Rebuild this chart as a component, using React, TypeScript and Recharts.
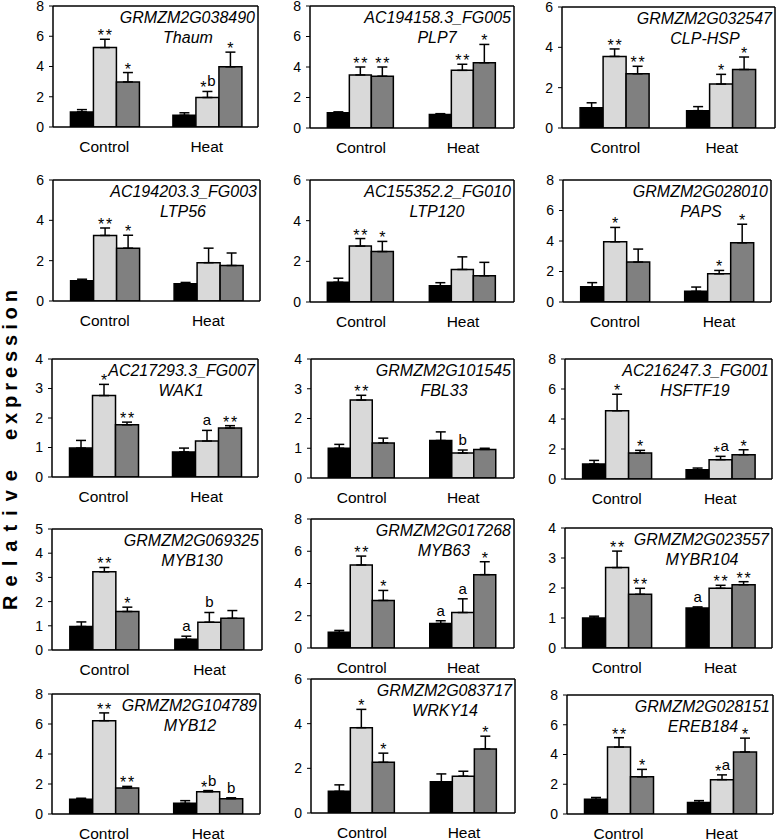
import React from "react";
import { BarChart, Bar, XAxis, YAxis, ErrorBar, LabelList, CartesianGrid } from "recharts";

const FONT = '"Liberation Sans", Arial, Helvetica, sans-serif';

const categories = ["Control", "Heat"];

const geneIds = [
  "GRMZM2G038490", "AC194158.3_FG005", "GRMZM2G032547",
  "AC194203.3_FG003", "AC155352.2_FG010", "GRMZM2G028010",
  "AC217293.3_FG007", "GRMZM2G101545", "AC216247.3_FG001",
  "GRMZM2G069325", "GRMZM2G017268", "GRMZM2G023557",
  "GRMZM2G104789", "GRMZM2G083717", "GRMZM2G028151",
];
const geneNames = [
  "Thaum", "PLP7", "CLP-HSP",
  "LTP56", "LTP120", "PAPS",
  "WAK1", "FBL33", "HSFTF19",
  "MYB130", "MYB63", "MYBR104",
  "MYB12", "WRKY14", "EREB184",
];

const yTicks = [
  [0, 2, 4, 6, 8], [0, 2, 4, 6, 8], [0, 2, 4, 6],
  [0, 2, 4, 6], [0, 2, 4, 6], [0, 2, 4, 6, 8],
  [0, 1, 2, 3, 4], [0, 1, 2, 3, 4], [0, 2, 4, 6, 8],
  [0, 1, 2, 3, 4, 5], [0, 2, 4, 6, 8], [0, 1, 2, 3, 4],
  [0, 2, 4, 6, 8], [0, 2, 4, 6], [0, 2, 4, 6, 8],
];

// each entry: [Control, Heat]
const blackMean = [
  [1.0, 0.78], [1.0, 0.88], [1.0, 0.86],
  [1.0, 0.86], [0.97, 0.8], [1.0, 0.7],
  [0.98, 0.85], [1.0, 1.26], [1.0, 0.62],
  [0.97, 0.44], [0.97, 1.52], [1.0, 1.33],
  [0.98, 0.71], [0.97, 1.4], [0.99, 0.78],
];
const blackErr = [
  [0.15, 0.16], [0.06, 0.06], [0.25, 0.2],
  [0.08, 0.06], [0.2, 0.15], [0.27, 0.28],
  [0.26, 0.13], [0.13, 0.29], [0.24, 0.11],
  [0.19, 0.13], [0.12, 0.17], [0.06, 0.04],
  [0.07, 0.18], [0.29, 0.35], [0.12, 0.12],
];
const blackMark = [
  ["", ""], ["", ""], ["", ""],
  ["", ""], ["", ""], ["", ""],
  ["", ""], ["", ""], ["", ""],
  ["", "a"], ["", "a"], ["", "a"],
  ["", ""], ["", ""], ["", ""],
];

const lightMean = [
  [5.25, 1.95], [3.48, 3.78], [3.55, 2.18],
  [3.25, 1.9], [2.75, 1.6], [3.95, 1.85],
  [2.76, 1.22], [2.62, 0.84], [4.55, 1.29],
  [3.23, 1.15], [5.15, 2.2], [2.68, 1.99],
  [6.22, 1.48], [3.82, 1.65], [4.5, 2.31],
];
const lightErr = [
  [0.55, 0.4], [0.52, 0.4], [0.37, 0.48],
  [0.37, 0.72], [0.37, 0.62], [0.94, 0.22],
  [0.38, 0.36], [0.16, 0.1], [1.1, 0.22],
  [0.18, 0.4], [0.55, 0.85], [0.55, 0.1],
  [0.52, 0.08], [0.82, 0.22], [0.63, 0.32],
];
const lightMark = [
  ["**", "*b"], ["**", "**"], ["**", "*"],
  ["**", ""], ["**", ""], ["*", "*"],
  ["*", "a"], ["**", "b"], ["*", "*a"],
  ["**", "b"], ["**", "a"], ["**", "**"],
  ["**", "*b"], ["*", ""], ["**", "*a"],
];

const darkMean = [
  [2.98, 3.98], [3.4, 4.28], [2.69, 2.9],
  [2.62, 1.76], [2.48, 1.29], [2.62, 3.88],
  [1.77, 1.66], [1.18, 0.96], [1.73, 1.62],
  [1.59, 1.31], [2.95, 4.55], [1.79, 2.11],
  [1.74, 1.02], [2.27, 2.87], [2.5, 4.17],
];
const darkErr = [
  [0.62, 0.97], [0.6, 1.2], [0.37, 0.62],
  [0.64, 0.62], [0.5, 0.66], [0.85, 1.22],
  [0.09, 0.08], [0.16, 0.04], [0.18, 0.33],
  [0.18, 0.32], [0.62, 0.8], [0.2, 0.1],
  [0.1, 0.06], [0.41, 0.57], [0.5, 0.93],
];
const darkMark = [
  ["*", "*"], ["**", "*"], ["**", "*"],
  ["*", ""], ["*", ""], ["", "*"],
  ["**", "**"], ["", ""], ["*", "*"],
  ["*", ""], ["*", "*"], ["**", "**"],
  ["**", "b"], ["*", "*"], ["*", "*"],
];

// plot boxes in page pixels: [left, top, right, bottom]
const boxes = [
  [53, 6, 258, 127], [310, 6, 514, 128], [562, 7, 775, 128],
  [53, 180, 260, 301], [310, 180, 514, 302], [563, 180, 771, 302],
  [52, 359, 258, 477], [311, 359, 514, 478], [565, 359, 772, 479],
  [52, 529, 262, 650], [311, 519, 514, 648], [565, 528, 772, 648],
  [52, 694, 260, 814], [311, 679, 515, 813], [567, 695, 773, 814],
];

const PAD_L = 50;
const PAD_T = 12;
const PAD_R = 2;
const PAD_B = 36;

const series = [
  { v: "v0", e: "e0", m: "m0", fill: "#000000" },
  { v: "v1", e: "e1", m: "m1", fill: "#d9d9d9" },
  { v: "v2", e: "e2", m: "m2", fill: "#808080" },
];

const axisLine = { stroke: "#000", strokeWidth: 1.5 };

function CatTick(props: any) {
  return (
    <text x={props.x} y={props.y + 25} textAnchor="middle" fontSize={15.5} fill="#000" fontFamily={FONT}>
      {props.payload.value}
    </text>
  );
}

function renderMark(props: any, data: any[], vk: string, ek: string) {
  const text = props.value;
  if (!text) return null;
  const vb = props.viewBox && props.viewBox.width != null ? props.viewBox : props;
  const { x, y, width, height } = vb;
  const row = data[props.index ?? 0];
  const v = row[vk];
  const e = row[ek][1];
  const top = y - (v ? (e * Math.abs(height)) / v : 0);
  const cx = x + width / 2;
  const chars = String(text).split("");
  const adv = 8;
  const x0 = cx - ((chars.length - 1) * adv) / 2;
  return (
    <g>
      {chars.map((c, k) => (
        <text
          key={k}
          x={x0 + k * adv}
          y={c === "*" ? top + 2 : top - 5}
          textAnchor="middle"
          fontSize={c === "*" ? 16 : 15}
          fill="#000"
          fontFamily={FONT}
        >
          {c}
        </text>
      ))}
    </g>
  );
}

function Panel({ i }: { i: number }) {
  const [l, t, r, b] = boxes[i];
  const w = r - l;
  const h = b - t;
  const ticks = yTicks[i];
  const data = categories.map((cat, j) => ({
    cat,
    v0: blackMean[i][j], e0: [0, blackErr[i][j]], m0: blackMark[i][j],
    v1: lightMean[i][j], e1: [0, lightErr[i][j]], m1: lightMark[i][j],
    v2: darkMean[i][j], e2: [0, darkErr[i][j]], m2: darkMark[i][j],
  }));
  return (
    <div style={{ position: "absolute", left: l - PAD_L, top: t - PAD_T }}>
      <BarChart
        width={w + PAD_L + PAD_R}
        height={h + PAD_T + PAD_B}
        data={data}
        margin={{ top: PAD_T, right: PAD_R, left: 0, bottom: 0 }}
        barCategoryGap="17%"
        barGap={0}
        style={{ overflow: "visible" }}
      >
        <CartesianGrid
          stroke="#000"
          strokeWidth={1.5}
          fill="none"
          horizontalCoordinatesGenerator={(p: any) => [p.offset.top]}
          verticalCoordinatesGenerator={(p: any) => [p.offset.left + p.offset.width]}
        />
        <XAxis
          dataKey="cat"
          height={PAD_B}
          tickLine={false}
          tickSize={0}
          tickMargin={0}
          interval={0}
          axisLine={axisLine}
          tick={<CatTick />}
        />
        <YAxis
          type="number"
          domain={[0, ticks[ticks.length - 1]]}
          ticks={ticks}
          interval={0}
          width={PAD_L}
          tickSize={4}
          tickMargin={5}
          axisLine={axisLine}
          tickLine={{ stroke: "#000", strokeWidth: 1 }}
          tick={{ fontSize: 14, fill: "#000", fontFamily: FONT }}
          allowDataOverflow
        />
        {series.map((s) => (
          <Bar key={s.v} dataKey={s.v} fill={s.fill} stroke="#000" strokeWidth={1.5} isAnimationActive={false}>
            <ErrorBar dataKey={s.e} direction="y" width={5} stroke="#000" strokeWidth={1.5} isAnimationActive={false} />
            <LabelList dataKey={s.m} content={(p: any) => renderMark(p, data, s.v, s.e)} />
          </Bar>
        ))}
      </BarChart>
    </div>
  );
}

export default function App() {
  return (
    <div
      style={{
        position: "absolute",
        left: 0,
        top: 0,
        width: 778,
        height: 840,
        overflow: "hidden",
        background: "#fff",
        fontFamily: FONT,
      }}
    >
      {geneIds.map((_, i) => (
        <Panel key={i} i={i} />
      ))}
      <svg width={778} height={840} style={{ position: "absolute", left: 0, top: 0, pointerEvents: "none" }}>
        {geneIds.map((id, i) => {
          const [, t, r] = boxes[i];
          const c = r - (id.startsWith("AC") ? 77 : 70);
          return (
            <g key={id} fontFamily={FONT} fontStyle="italic" fontSize={16} fill="#000">
              <text x={r - 3} y={t + 17} textAnchor="end">{id}</text>
              <text x={c} y={t + 37} textAnchor="middle">{geneNames[i]}</text>
            </g>
          );
        })}
        <g fontFamily={FONT} fontWeight="bold" fontSize={20} fill="#000">
          <text transform="translate(17,540) rotate(-90)" textAnchor="middle" textLength={140} lengthAdjust="spacing">Relative</text>
          <text transform="translate(17,365) rotate(-90)" textAnchor="middle" textLength={150} lengthAdjust="spacing">expression</text>
        </g>
      </svg>
    </div>
  );
}
